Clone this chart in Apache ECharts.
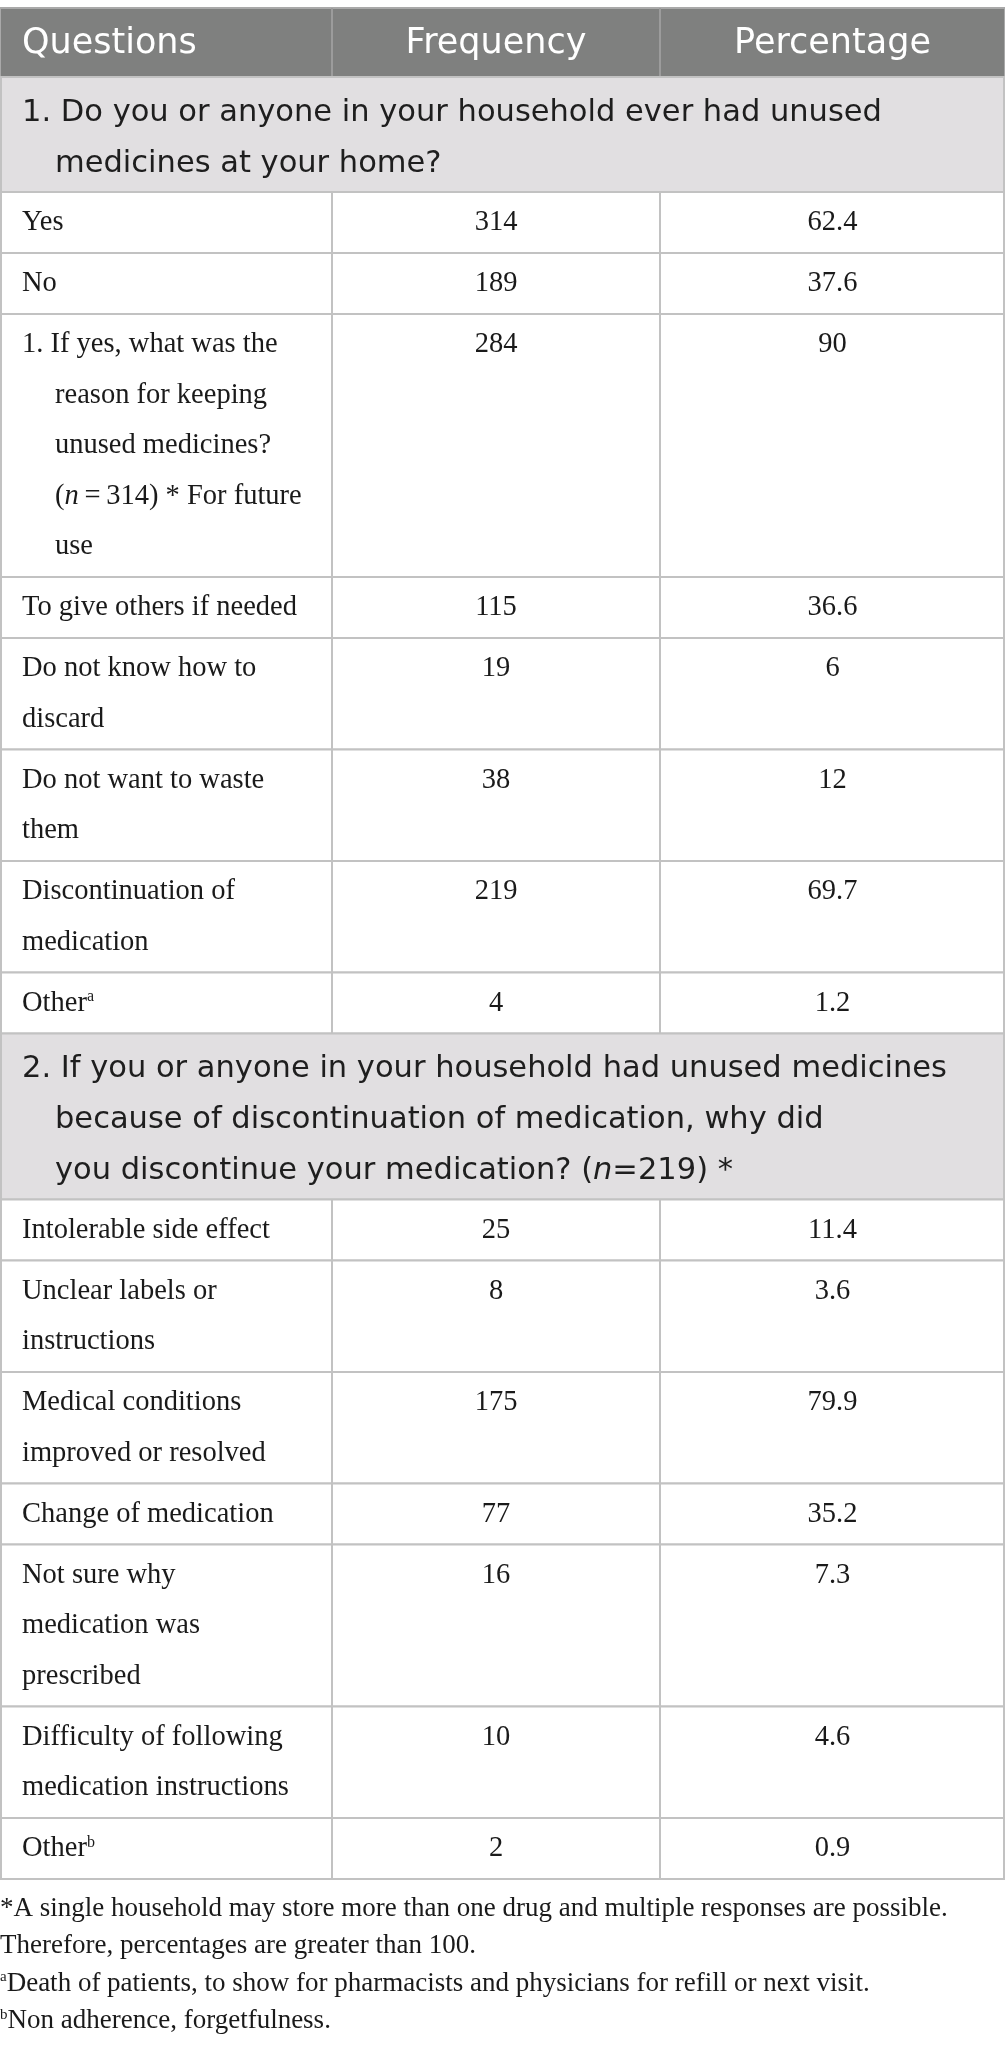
<!DOCTYPE html>
<html>
<head>
<meta charset="utf-8">
<script src="https://cdn.jsdelivr.net/npm/echarts@6/dist/echarts.min.js"></script>
<style>
html,body{margin:0;padding:0;background:#fff;}
#chart{width:1005px;height:2047px;}
</style>
</head>
<body>
<div id="chart"></div>
<script>
// ---------- data ----------
const headers = ['Questions', 'Frequency', 'Percentage'];

const section1Title = ['1. Do you or anyone in your household ever had unused', 'medicines at your home?'];
const section1Labels = [
  ['Yes'],
  ['No'],
  ['1. If yes, what was the', 'reason for keeping', 'unused medicines?', '(n\u2009=\u2009314) * For future', 'use'],
  ['To give others if needed'],
  ['Do not know how to', 'discard'],
  ['Do not want to waste', 'them'],
  ['Discontinuation of', 'medication'],
  ['Other^a']
];
const section1Freq = [314, 189, 284, 115, 19, 38, 219, 4];
const section1Pct = [62.4, 37.6, 90, 36.6, 6, 12, 69.7, 1.2];

const section2Title = ['2. If you or anyone in your household had unused medicines', 'because of discontinuation of medication, why did', 'you discontinue your medication? (n=219) *'];
const section2Labels = [
  ['Intolerable side effect'],
  ['Unclear labels or', 'instructions'],
  ['Medical conditions', 'improved or resolved'],
  ['Change of medication'],
  ['Not sure why', 'medication was', 'prescribed'],
  ['Difficulty of following', 'medication instructions'],
  ['Other^b']
];
const section2Freq = [25, 8, 175, 77, 16, 10, 2];
const section2Pct = [11.4, 3.6, 79.9, 35.2, 7.3, 4.6, 0.9];

const footnotes = [
  '*A single household may store more than one drug and multiple responses are possible.',
  'Therefore, percentages are greater than 100.',
  '^aDeath of patients, to show for pharmacists and physicians for refill or next visit.',
  '^bNon adherence, forgetfulness.'
];

// ---------- layout ----------
const W = 1005;
const COLS = [0, 332, 660, 1005];
const HEADER_H = 69, LINE_H = 50.5, ROW_PAD = 10.5, SEC_LINE = 51, SEC_PAD = 13;
const SERIF = '"Liberation Serif", "Times New Roman", serif';
const SANS = '"DejaVu Sans", "Open Sans", sans-serif';

const rows = [];
let cy = 0;
function push(r, h) { r.y0 = cy; r.y1 = cy + h; cy += h; rows.push(r); }
push({ kind: 'header' }, HEADER_H);
function addSection(title, labels, freq, pct) {
  push({ kind: 'section', lines: title }, SEC_PAD + SEC_LINE * title.length);
  labels.forEach((lines, i) => {
    push({ kind: 'row', lines: lines, freq: freq[i], pct: pct[i] }, ROW_PAD + LINE_H * lines.length);
  });
}
addSection(section1Title, section1Labels, section1Freq, section1Pct);
addSection(section2Title, section2Labels, section2Freq, section2Pct);
const TOTAL = cy;

function markup(s) {
  return s.replace(/\(n/g, '({it|n}').replace(/\^([ab])/g, '{sup|$1}');
}

const chart = echarts.init(document.getElementById('chart'), null, { renderer: 'canvas' });

function renderItem(params, api) {
  const r = rows[params.dataIndex];
  const tl = api.coord([0, r.y0]);
  const br = api.coord([W, r.y1]);
  const x0 = tl[0], y0 = tl[1], x1 = br[0], y1 = br[1];
  const cx = COLS.map(c => api.coord([c, r.y0])[0]);
  const children = [];
  const border = '#c2c2c2';
  if (r.kind === 'header') {
    children.push({ type: 'rect', shape: { x: x0, y: y0, width: x1 - x0, height: y1 - y0 }, style: { fill: '#7f807f', stroke: '#a9a9a9', lineWidth: 2 } });
    [1, 2].forEach(k => children.push({ type: 'line', shape: { x1: cx[k], y1: y0, x2: cx[k], y2: y1 }, style: { stroke: '#9c9c9c', lineWidth: 2 } }));
    headers.forEach((h, k) => {
      children.push({ type: 'text', style: {
        text: h, x: k === 0 ? x0 + 22 : (cx[k] + cx[k + 1]) / 2, y: y0 + 36,
        align: k === 0 ? 'left' : 'center', verticalAlign: 'middle',
        fill: '#ffffff', font: '35px ' + SANS
      } });
    });
  } else if (r.kind === 'section') {
    children.push({ type: 'rect', shape: { x: x0 + 1, y: y0, width: x1 - x0 - 2, height: y1 - y0 }, style: { fill: '#e1dfe1', stroke: border, lineWidth: 2 } });
    r.lines.forEach((ln, i) => {
      children.push({ type: 'text', style: {
        text: markup(ln), x: x0 + (i === 0 ? 22 : 55), y: y0 + 36 + i * SEC_LINE,
        align: 'left', verticalAlign: 'middle', fill: '#1e1e1e', font: '30.5px ' + SANS,
        rich: { it: { fontStyle: 'italic', fontFamily: SANS, fontSize: 30.5, fill: '#1e1e1e' } }
      } });
    });
  } else {
    children.push({ type: 'rect', shape: { x: x0 + 1, y: y0, width: x1 - x0 - 2, height: y1 - y0 }, style: { fill: '#ffffff', stroke: border, lineWidth: 2 } });
    [1, 2].forEach(k => children.push({ type: 'line', shape: { x1: cx[k], y1: y0, x2: cx[k], y2: y1 }, style: { stroke: border, lineWidth: 2 } }));
    const indent = /^\d\. /.test(r.lines[0]);
    r.lines.forEach((ln, i) => {
      children.push({ type: 'text', style: {
        text: markup(ln), x: x0 + (i > 0 && indent ? 55 : 22), y: y0 + 31 + i * LINE_H,
        align: 'left', verticalAlign: 'middle', fill: '#1a1a1a', font: '28.5px ' + SERIF,
        rich: {
          it: { fontStyle: 'italic', fontFamily: SERIF, fontSize: 28.5, fill: '#1a1a1a' },
          sup: { fontFamily: SERIF, fontSize: 16, fill: '#1a1a1a', verticalAlign: 'top' }
        }
      } });
    });
    [[r.freq, 1], [r.pct, 2]].forEach(([v, k]) => {
      children.push({ type: 'text', style: {
        text: String(v), x: (cx[k] + cx[k + 1]) / 2, y: y0 + 31,
        align: 'center', verticalAlign: 'middle', fill: '#1a1a1a', font: '28.5px ' + SERIF
      } });
    });
  }
  return { type: 'group', children: children };
}

const option = {
  animation: false,
  grid: { left: 0, right: 0, top: 8, height: TOTAL, containLabel: false },
  xAxis: { type: 'value', min: 0, max: W, show: false },
  yAxis: { type: 'value', min: 0, max: TOTAL, inverse: true, show: false },
  series: [{
    type: 'custom',
    renderItem: renderItem,
    coordinateSystem: 'cartesian2d',
    clip: false,
    data: rows.map((r, i) => [i, r.y0, r.y1]),
    encode: { x: 0, y: [1, 2] }
  }],
  graphic: footnotes.map((t, i) => ({
    type: 'text',
    left: 0,
    top: 1895 + i * 37.5,
    style: {
      text: markup(t), fill: '#1a1a1a', font: '27px ' + SERIF,
      rich: { sup: { fontFamily: SERIF, fontSize: 15, fill: '#1a1a1a', verticalAlign: 'top' } }
    }
  }))
};
chart.setOption(option);
</script>
</body>
</html>
